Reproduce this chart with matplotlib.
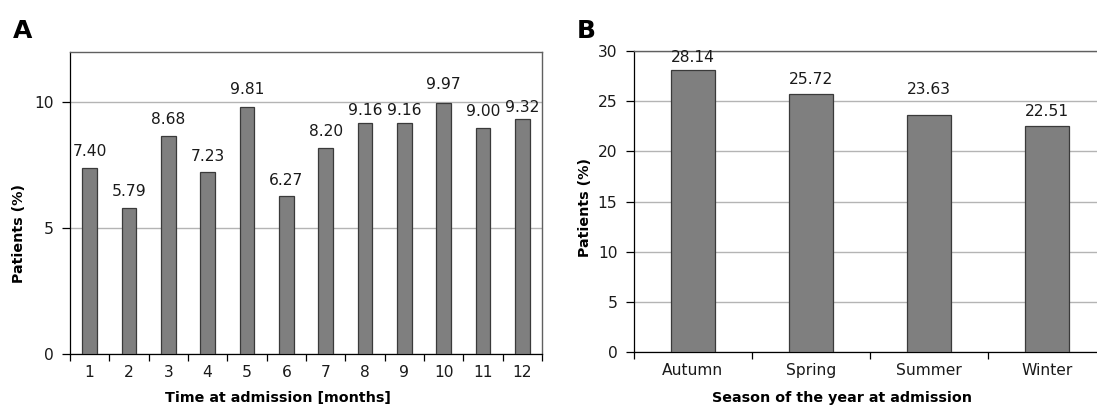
import numpy as np
from matplotlib import pyplot as plt

months = ["1", "2", "3", "4", "5", "6", "7", "8", "9", "10", "11", "12"]
month_pct = [7.40, 5.79, 8.68, 7.23, 9.81, 6.27, 8.20, 9.16, 9.16, 9.97, 9.00, 9.32]

seasons = ["Autumn", "Spring", "Summer", "Winter"]
season_pct = [28.14, 25.72, 23.63, 22.51]

# label gap above each bar (points), as in the original
month_pad = [6, 7, 6, 6, 7, 6, 6, 4, 4, 8, 6, 3]
season_pad = [3, 5, 13, 5]

plt.rcParams['font.family'] = ['DejaVu Sans']

BAR = "#7f7f7f"
EDGE = "#3a3a3a"
GRID = "#b4b4b4"
FS = 11.2


def bar_panel(ax, cats, vals, pads, ymax, ystep, xlabel, xl_y):
    x = np.arange(len(cats))
    bars = ax.bar(x, vals, width=0.38, color=BAR, edgecolor=EDGE, linewidth=0.9, zorder=3)
    for b, v, p in zip(bars, vals, pads):
        ax.annotate(f"{v:.2f}", (b.get_x() + b.get_width() / 2, v),
                    xytext=(0, p), textcoords="offset points",
                    ha="center", va="bottom", fontsize=FS, color="#1a1a1a")
    ax.set_xlim(-0.5, len(cats) - 0.5)
    ax.set_ylim(0, ymax)
    ax.set_yticks(np.arange(0, ymax + 0.01, ystep))
    ax.set_xticks(x, cats)
    ax.set_xticks(np.arange(-0.5, len(cats)), minor=True)
    ax.tick_params(axis="x", which="major", length=0, pad=8, labelsize=FS, labelcolor="#1a1a1a")
    ax.tick_params(axis="x", which="minor", length=5, width=0.9, direction="out")
    ax.tick_params(axis="y", length=6, width=0.9, pad=6, labelsize=FS, labelcolor="#1a1a1a")
    ax.yaxis.grid(True, color=GRID, linewidth=1.0, zorder=0)
    ax.set_axisbelow(True)
    for s in ("left", "bottom"):
        ax.spines[s].set_color("black")
        ax.spines[s].set_linewidth(0.9)
    for s in ("top", "right"):
        ax.spines[s].set_color("#606060")
        ax.spines[s].set_linewidth(1.0)
    ax.set_xlabel(xlabel, fontsize=10.3, fontweight="bold")
    ax.set_ylabel("Patients (%)", fontsize=10.3, fontweight="bold")
    ax.xaxis.set_label_coords(0.44, xl_y)
    ax.yaxis.label.set_va("center")
    return ax


fig = plt.figure(figsize=(10.97, 4.07), dpi=100)
ax1 = fig.add_axes([70 / 1097, 53 / 407, 472 / 1097, 302 / 407])
ax2 = fig.add_axes([634 / 1097, 55 / 407, 472 / 1097, 301 / 407])

bar_panel(ax1, months, month_pct, month_pad, 12, 5, "Time at admission [months]", -0.123)
ax1.set_yticks([0, 5, 10])
ax1.yaxis.set_label_coords(-0.108, 0.40)

bar_panel(ax2, seasons, season_pct, season_pad, 30, 5, "Season of the year at admission", -0.131)
ax2.yaxis.set_label_coords(-0.104, 0.48)

fig.text(13 / 1097, 1 - 38 / 407, "A", fontsize=18, fontweight="bold", va="baseline")
fig.text(577 / 1097, 1 - 38 / 407, "B", fontsize=18, fontweight="bold", va="baseline")

fig.savefig("out.png", dpi=100)
